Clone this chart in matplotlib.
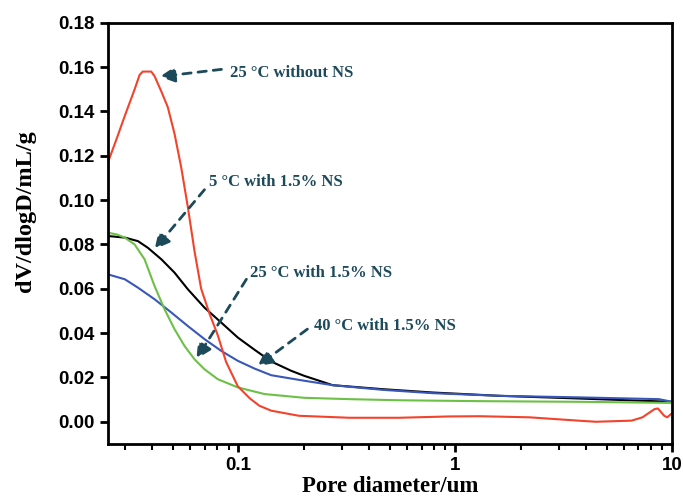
import matplotlib
matplotlib.use("Agg")
import matplotlib.pyplot as plt
from matplotlib.ticker import FixedLocator, NullFormatter, LogLocator

# pore size distribution curves
x_red = [0.025, 0.0275, 0.0299, 0.0332, 0.0350, 0.0362, 0.0396, 0.0410, 0.0441, 0.0472,
         0.0507, 0.0544, 0.0584, 0.0627, 0.0673, 0.0734, 0.0803, 0.0877, 0.0993, 0.113,
         0.125, 0.1416, 0.19, 0.325, 0.55, 0.94, 1.3, 2.2, 3.7, 4.45, 6.5, 7.3, 8.3, 8.6,
         9.2, 9.5, 9.9]
y_red = [0.117, 0.128, 0.138, 0.150, 0.1565, 0.158, 0.158, 0.156, 0.149, 0.142,
         0.130, 0.115, 0.097, 0.077, 0.060, 0.049, 0.039, 0.027, 0.016, 0.0105,
         0.0072, 0.005, 0.0027, 0.0018, 0.0018, 0.0024, 0.0025, 0.002, 0.0005, 0.0, 0.0005,
         0.002, 0.0057, 0.006, 0.0027, 0.002, 0.0035]

x_black = [0.025, 0.0299, 0.0344, 0.0382, 0.0441, 0.0507, 0.0584, 0.0697, 0.0832, 0.0993,
           0.1186, 0.1416, 0.175, 0.2014, 0.272, 0.463, 0.786, 1.6, 3.7, 10]
y_black = [0.0838, 0.0831, 0.0815, 0.0785, 0.0733, 0.0673, 0.0598, 0.0515, 0.0448, 0.038,
           0.0325, 0.0272, 0.023, 0.0207, 0.0165, 0.0147, 0.0132, 0.0117, 0.0105, 0.009]

x_green = [0.025, 0.0275, 0.0299, 0.0332, 0.0369, 0.0410, 0.0456, 0.0507, 0.0564, 0.0627,
           0.0697, 0.0803, 0.0993, 0.1318, 0.2014, 0.325, 0.552, 1.29, 3.73, 10]
y_green = [0.0853, 0.0845, 0.0831, 0.080, 0.0733, 0.0613, 0.0508, 0.0418, 0.0342, 0.0282,
           0.0237, 0.0192, 0.0155, 0.0125, 0.0108, 0.0102, 0.0097, 0.0093, 0.0090, 0.0085]

x_blue = [0.025, 0.0299, 0.0344, 0.0410, 0.0490, 0.0584, 0.0697, 0.0832, 0.0993, 0.1186,
          0.1416, 0.2014, 0.272, 0.463, 0.786, 1.6, 3.73, 8.7, 10]
y_blue = [0.0665, 0.0643, 0.0605, 0.0553, 0.0493, 0.0432, 0.0373, 0.032, 0.0275, 0.0240,
          0.021, 0.0185, 0.0165, 0.0144, 0.0129, 0.0117, 0.011, 0.0102, 0.009]

labels = ["25 \u00b0C without NS", "5 \u00b0C with 1.5% NS",
          "25 \u00b0C with 1.5% NS", "40 \u00b0C with 1.5% NS"]
y_ticks = [0.00, 0.02, 0.04, 0.06, 0.08, 0.10, 0.12, 0.14, 0.16, 0.18]

fig = plt.figure(figsize=(6.83, 4.96), dpi=100)
ax = fig.add_axes([0.158, 0.105, 0.826, 0.849])

ax.plot(x_black, y_black, color="black", lw=1.5)
ax.plot(x_blue, y_blue, color="#3857b8", lw=1.5)
ax.plot(x_green, y_green, color="#6cc046", lw=1.5)
ax.plot(x_red, y_red, color="#f2432d", lw=1.5)

ax.set_xscale("log")
ax.set_xlim(0.025, 10)
ax.set_ylim(-0.01, 0.18)

ax.xaxis.set_major_locator(FixedLocator([0.1, 1, 10]))
ax.xaxis.set_major_formatter(plt.FixedFormatter(["0.1", "1", "10"]))
ax.xaxis.set_minor_locator(LogLocator(base=10, subs=range(2, 10)))
ax.xaxis.set_minor_formatter(NullFormatter())
ax.set_yticks(y_ticks)
ax.set_yticklabels(["%.2f" % v for v in y_ticks])

for s in ax.spines.values():
    s.set_linewidth(2)
ax.tick_params(which="major", direction="out", length=6, width=2)
ax.tick_params(which="minor", direction="out", length=4, width=1.5)
for lab in ax.get_xticklabels() + ax.get_yticklabels():
    lab.set_fontfamily("Liberation Sans")
    lab.set_fontweight("bold")
    lab.set_fontsize(13.5)

ax.set_xlabel("Pore diameter/um", fontfamily="Liberation Serif", fontweight="bold",
              fontsize=16.5, labelpad=1)
ax.set_ylabel("dV/dlogD/mL/g", fontfamily="Liberation Serif", fontweight="bold",
              fontsize=17.5)
ax.yaxis.set_label_coords(-0.128, 0.553)

# annotations with dashed arrows
tc = "#1d4a5a"
heads = [(0.0433, 0.1557), (0.041, 0.0778), (0.064, 0.0283), (0.1224, 0.0251)]
tails = [(0.0835, 0.1590), (0.0697, 0.1047), (0.1088, 0.0643), (0.208, 0.0418)]
texts = [(0.091, 0.1575), (0.0735, 0.1080), (0.113, 0.0670), (0.224, 0.0431)]
for lab, h, t, p in zip(labels, heads, tails, texts):
    ax.annotate("", xy=h, xytext=t,
                arrowprops=dict(arrowstyle="-|>,head_length=0.9,head_width=0.45",
                                color=tc, lw=2, linestyle=(0, (3, 2.5)),
                                shrinkA=0, shrinkB=0))
    ax.text(p[0], p[1], lab, color=tc, fontfamily="Liberation Serif",
            fontweight="bold", fontsize=12, va="center", ha="left")

fig.savefig("out.png", dpi=100)
